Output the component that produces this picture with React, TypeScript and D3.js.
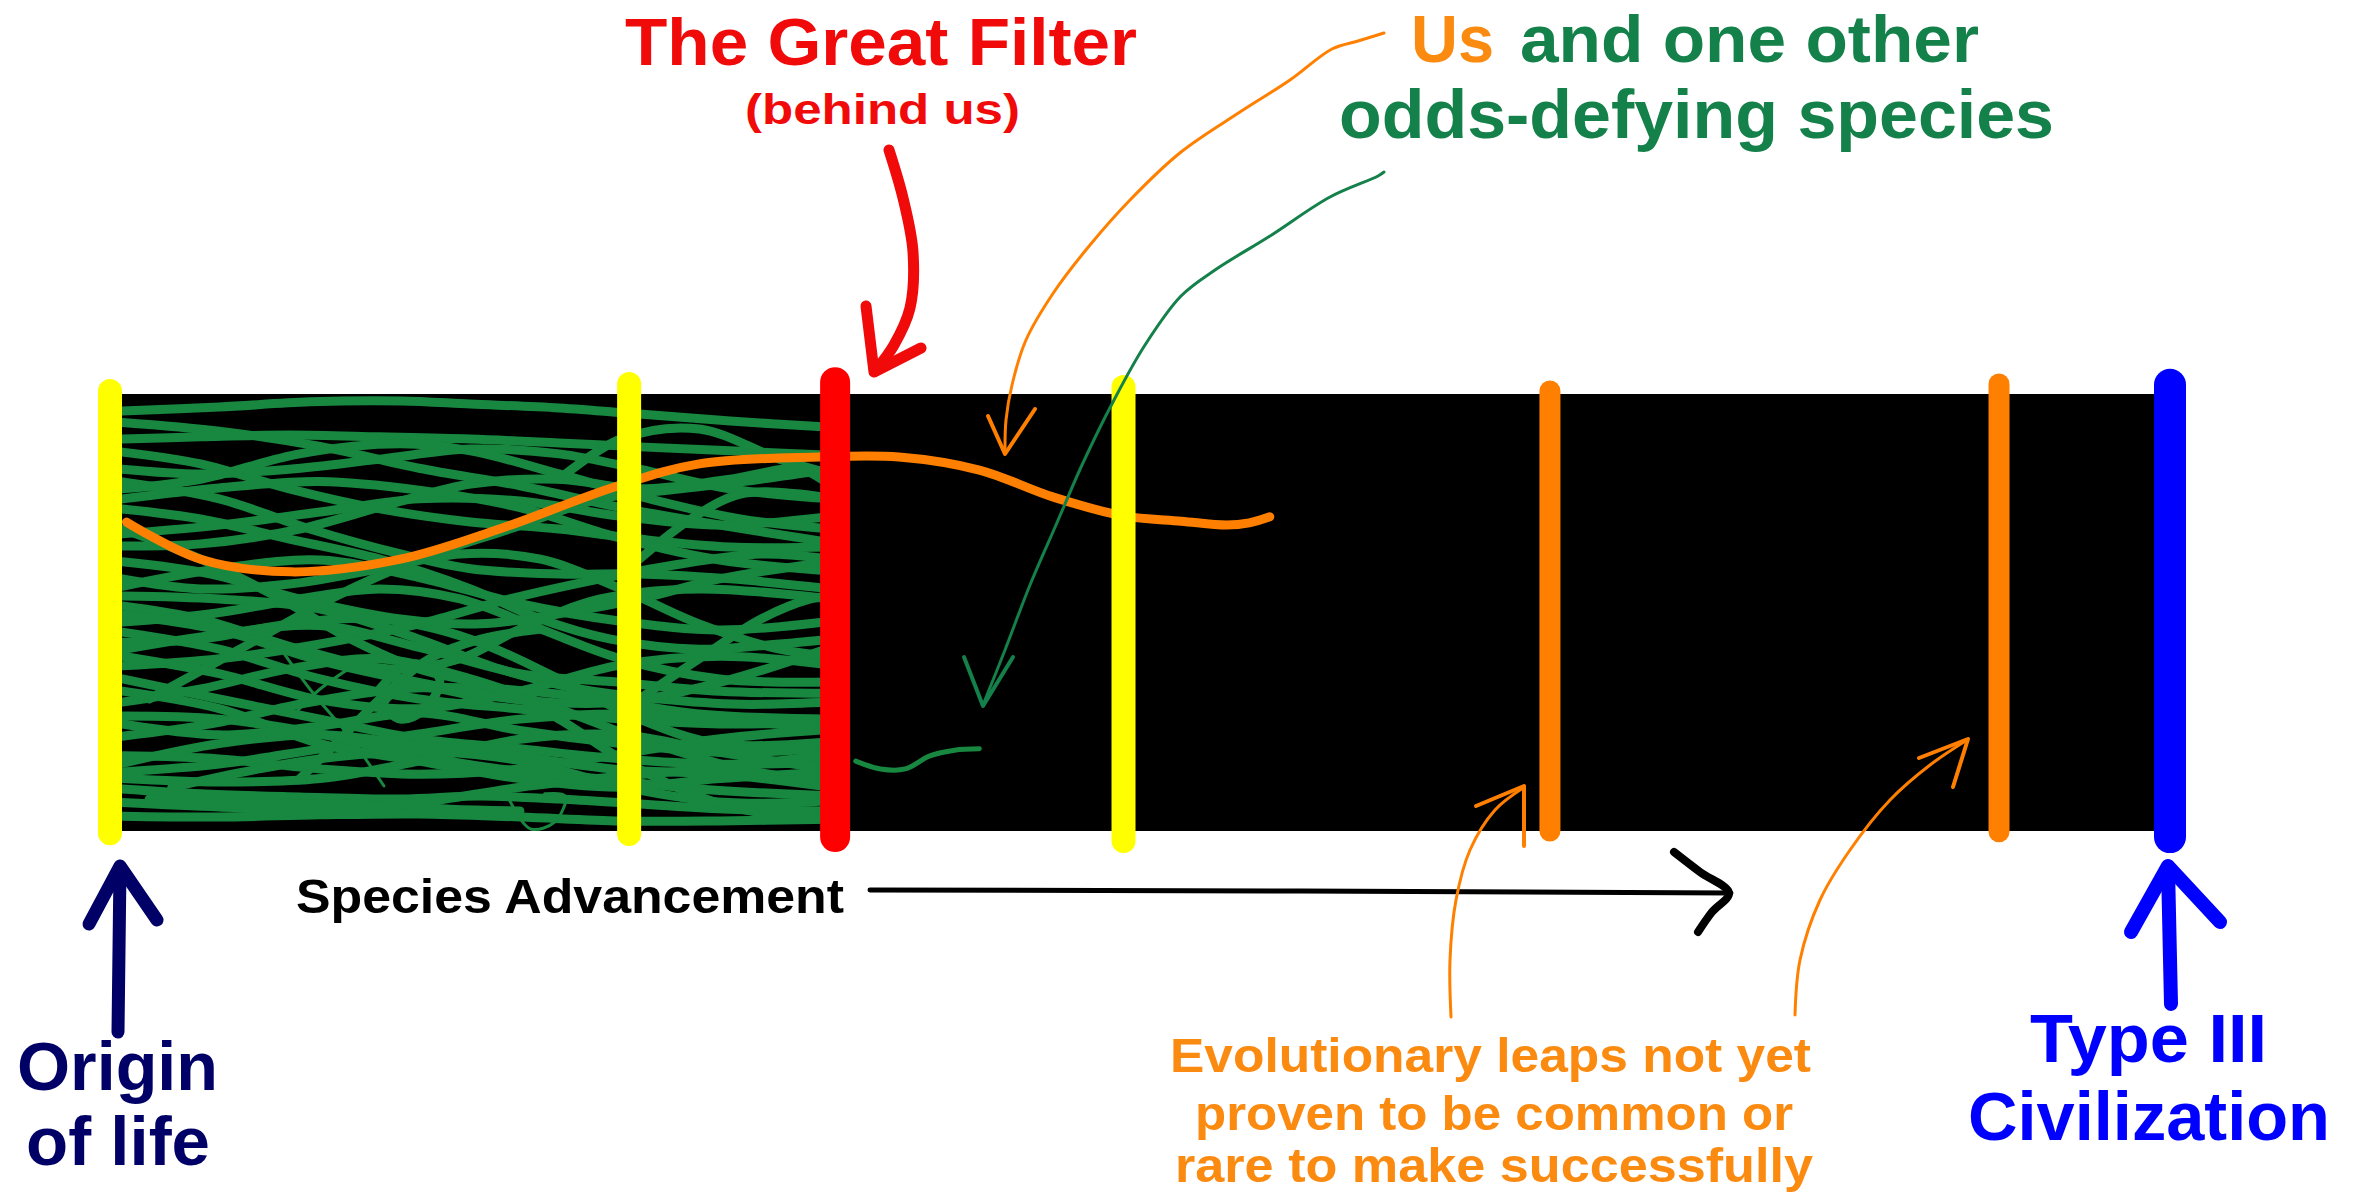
import React from 'react';
import * as d3 from 'd3';

// ---- Data (advancement axis: 0 = origin of life, 100 = Type III civilization;
// ---- vertical axis: 0..100 across the band of species) ----

const stageNames = ['Origin of life', 'Early leap', 'The Great Filter', 'Later leap', 'Unproven leap 1', 'Unproven leap 2', 'Type III Civilization'];
const stagePositions = [0, 25.2, 35.2, 49.2, 69.9, 91.7, 100];
const stageKinds = ['yellow', 'yellow', 'red', 'yellow', 'orange', 'orange', 'blue'];
const stageTop = [-0.7, -2.3, -2.7, -1.6, -0.7, -2.3, -2.1];
const stageBottom = [100.5, 100.7, 101.4, 102.3, 100.0, 100.2, 101.4];

// Lineages of species that died out at the filters (hand traced)
const lineages: [number, number][][] = [
  [[0.6, 3.9], [5.3, 3.0], [9.7, 1.8], [14.1, 1.6], [17.5, 2.3], [21.8, 3.2], [25.7, 4.6], [30.1, 6.2], [35, 7.6]],
  [[0.6, 10.3], [4.4, 9.8], [8.7, 9.4], [13.1, 9.8], [17.5, 10.3], [21.8, 11.2], [25.7, 12.1], [30.1, 13.0], [35, 14.0]],
  [[0.6, 13.3], [4.4, 16.0], [8.7, 21.7], [13.1, 26.3], [17.5, 29.3], [21.8, 30.9], [25.7, 33.2], [30.1, 35.0], [35, 35.0]],
  [[0.6, 17.2], [4.4, 18.3], [8.7, 17.2], [13.1, 14.9], [17.5, 12.6], [21.8, 13.7], [25.7, 17.2], [30.1, 21.7], [35, 24.0]],
  [[0.6, 20.1], [5.3, 24.0], [9.7, 30.9], [14.1, 36.6], [17.5, 40.0], [21.8, 41.2], [25.7, 41.2], [30.1, 42.3], [35, 44.6]],
  [[0.6, 21.7], [4.4, 19.5], [9.2, 13.7], [14.1, 11.4], [17.5, 13.0], [21.8, 18.3], [26.2, 24.0], [30.6, 28.6], [35, 30.9]],
  [[0.6, 26.3], [4.4, 28.6], [8.7, 33.2], [13.1, 37.8], [17.5, 44.6], [20.9, 51.5], [24.3, 56.1], [28.6, 58.4], [32.5, 57.2], [35, 56.1]],
  [[0.6, 34.8], [4.4, 34.3], [9.2, 30.9], [13.6, 25.2], [17.5, 20.6], [21.8, 19.5], [25.7, 21.7], [30.1, 19.5], [33.5, 17.2], [35, 21.1]],
  [[0.6, 38.4], [4.9, 41.2], [9.2, 46.9], [14.1, 51.5], [18.0, 52.6], [21.8, 50.3], [25.7, 46.9], [29.6, 42.3], [35, 38.4]],
  [[0.6, 42.3], [4.4, 44.6], [8.7, 43.5], [13.1, 40.0], [17.0, 36.6], [20.9, 37.8], [24.8, 44.6], [28.6, 52.6], [32.5, 58.4], [35, 60.0]],
  [[0.6, 46.2], [5.3, 46.9], [10.2, 49.2], [15.0, 56.1], [18.9, 62.9], [22.8, 67.5], [26.7, 69.8], [30.6, 71.0], [35, 70.5]],
  [[0.6, 48.5], [4.4, 51.5], [9.2, 58.4], [13.6, 62.9], [17.0, 60.6], [19.9, 53.8], [23.8, 46.9], [28.6, 44.6], [35, 46.9]],
  [[0.6, 52.2], [4.9, 50.3], [9.2, 46.9], [13.1, 44.6], [17.0, 46.9], [20.9, 53.8], [24.8, 60.6], [29.6, 65.2], [35, 65.9]],
  [[0.6, 54.5], [5.3, 58.4], [10.2, 65.2], [15.0, 69.8], [19.9, 72.1], [24.8, 74.4], [29.6, 75.5], [35, 75.1]],
  [[0.6, 56.8], [4.4, 56.1], [8.7, 52.6], [13.1, 51.5], [17.5, 56.1], [21.8, 65.2], [25.7, 74.4], [29.6, 80.1], [35, 79.6]],
  [[0.6, 62.2], [5.3, 60.6], [10.2, 57.2], [15.0, 52.6], [19.4, 46.9], [23.8, 42.3], [27.7, 38.9], [31.6, 36.6], [35, 37.8]],
  [[0.6, 65.2], [5.3, 69.8], [10.2, 74.4], [15.0, 78.9], [19.9, 81.2], [24.8, 83.5], [29.6, 84.7], [35, 84.2]],
  [[0.6, 70.5], [4.4, 67.5], [8.7, 62.9], [13.1, 60.6], [17.5, 65.2], [21.8, 72.1], [25.7, 78.9], [30.6, 85.8], [35, 88.8]],
  [[0.6, 73.7], [5.3, 74.4], [10.2, 77.8], [14.6, 82.4], [18.9, 85.8], [23.8, 88.1], [28.6, 90.4], [35, 92.0]],
  [[0.6, 78.3], [4.9, 75.5], [9.2, 71.0], [14.1, 67.5], [18.9, 67.5], [23.8, 69.8], [28.6, 73.2], [35, 74.4]],
  [[0.6, 82.8], [5.3, 83.5], [10.2, 85.8], [15.0, 87.0], [19.9, 85.8], [24.8, 82.4], [29.6, 78.9], [35, 76.7]],
  [[0.6, 86.5], [5.3, 84.7], [10.2, 81.2], [15.0, 77.8], [19.9, 74.4], [24.8, 73.2], [29.6, 74.4], [35, 76.7]],
  [[0.6, 90.4], [4.4, 91.5], [9.2, 92.2], [14.1, 92.7], [18.0, 92.0], [21.8, 92.7], [25.7, 93.8], [30.1, 95.0], [35, 95.4]],
  [[1.9, 92.7], [6.8, 93.8], [11.7, 93.8], [16.5, 95.0], [19.9, 95.4]],
  [[0.6, 96.6], [5.3, 96.8], [10.2, 96.3], [15.0, 96.1], [19.9, 96.8], [24.8, 97.7], [29.6, 97.7], [35, 97.3]],
  [[1.9, 69.8], [6.3, 58.4], [10.7, 46.9], [15.0, 37.8], [19.4, 30.9], [23.8, 24.0], [27.7, 21.7], [31.6, 19.5], [35, 17.2]],
  [[9.2, 88.1], [11.2, 78.9], [13.1, 69.8], [15.5, 60.6], [18.0, 56.1], [20.9, 53.8]],
  [[0.6, 30.9], [4.4, 37.8], [8.3, 46.9], [11.7, 56.1], [15.0, 62.9], [18.9, 67.5], [21.8, 74.4], [24.8, 83.5], [27.7, 90.4], [30.6, 95.0], [35, 97.3]],
  [[13.1, 67.5], [14.1, 62.9], [15.0, 61.8], [16.0, 65.2], [15.3, 72.1], [14.1, 74.4], [13.3, 70.9], [14.1, 67.5], [16.0, 67.5], [18.0, 69.8]],
  [[21.8, 19.5], [24.8, 10.3], [28.6, 8.0], [32.5, 14.9], [35, 18.3]],
  [[25.7, 37.8], [28.2, 28.6], [30.6, 22.9], [33.5, 22.9], [35, 24.0]],
  [[25.7, 69.8], [28.6, 60.6], [31.6, 51.5], [34.0, 46.9], [35, 46.2]],
  [[0.6, 60.0], [5.3, 64.0], [10.2, 70.0], [15.0, 72.0], [19.9, 68.0], [24.8, 62.0], [29.6, 60.0], [35, 62.0]],
  [[0.6, 88.0], [5.3, 88.8], [10.2, 88.0], [15.0, 84.0], [19.9, 79.0], [24.8, 78.0], [29.6, 82.0], [35, 86.0]],
  [[0.6, 44.0], [5.3, 40.0], [10.2, 38.0], [15.0, 42.0], [19.9, 48.0], [24.8, 52.0], [29.6, 54.0], [35, 52.0]],
  [[0.6, 32.0], [5.3, 30.0], [10.2, 27.0], [15.0, 24.0], [19.9, 24.5], [24.8, 28.0], [29.6, 30.0], [35, 28.0]],
  [[0.6, 6.5], [5.3, 8.5], [10.2, 12.0], [15.0, 17.0], [19.9, 21.0], [24.8, 26.0], [29.6, 30.0], [35, 34.0]],
  [[0.6, 58.5], [5.3, 55.0], [10.2, 53.0], [15.0, 58.0], [19.9, 64.0], [24.8, 66.0], [29.6, 68.0], [35, 68.5]],
  [[0.6, 68.0], [5.3, 72.0], [10.2, 80.0], [15.0, 84.0], [19.9, 88.0], [24.8, 90.0], [29.6, 88.0], [35, 86.5]],
  [[0.6, 75.5], [5.3, 78.0], [10.2, 76.0], [15.0, 73.0], [19.9, 77.0], [24.8, 80.0], [29.6, 82.0], [35, 81.0]],
  [[0.6, 84.5], [5.3, 80.0], [10.2, 78.0], [15.0, 80.5], [19.9, 83.0], [24.8, 86.0], [29.6, 87.0], [35, 90.0]],
  [[0.6, 50.5], [5.3, 54.0], [10.2, 61.0], [15.0, 66.0], [19.9, 70.0], [24.8, 70.5], [29.6, 66.0], [35, 58.0]],
  [[3.0, 90.0], [7.0, 86.0], [11.0, 83.0], [16.0, 82.0], [20.0, 84.0], [25.0, 90.0], [30.0, 93.5], [35, 93.0]],
  [[0.6, 93.5], [5.3, 94.5], [10.2, 95.0], [15.0, 93.5], [19.9, 90.0], [24.8, 87.5], [29.6, 85.5], [35, 82.5]],
  [[0.6, 24.0], [5.3, 21.5], [10.2, 20.0], [15.0, 22.0], [19.9, 26.0], [24.8, 33.0], [29.6, 38.0], [35, 40.5]],
];

const thinLineages: [number, number][][] = [
  [[9.1, 72.5], [10.2, 67.5], [12.1, 61.3]],
  [[8.1, 57.0], [9.7, 67.5], [11.7, 78.9], [13.3, 89.7]],
  [[19.4, 93.0], [20.4, 99.5], [21.6, 97.9], [22.1, 92.0], [21.1, 91.5]],
];

// Our own lineage (orange) and the other odds-defying species (green)
const usPath: [number, number][] = [
  [0.8, 29.3], [4.4, 37.8], [8.8, 40.7], [14.1, 37.8], [18.9, 30.9], [24.6, 21.1], [28.6, 16.0],
  [34.4, 14.4], [38.3, 14.4], [42.2, 17.4], [45.8, 23.6], [49.2, 27.9], [52.0, 29.1], [54.2, 30.0], [55.3, 29.5], [56.3, 28.1],
];
const otherSurvivor: [number, number][] = [
  [36.2, 84.0], [37.4, 85.8], [38.6, 85.8], [39.8, 82.8], [41.0, 81.5], [42.2, 81.2],
];

const kindColors = ['#ffff00', '#ff0000', '#ff8000', '#0000ff'];
const kindNames = ['yellow', 'red', 'orange', 'blue'];

const FONT = '"Liberation Sans", Arial, Helvetica, sans-serif';

export default function App() {
  const x = d3.scaleLinear().domain([0, 100]).range([110, 2170]);
  const y = d3.scaleLinear().domain([0, 100]).range([394, 831]);
  const color = d3.scaleOrdinal<string, string>().domain(kindNames).range(kindColors);
  const barWidth: Record<string, number> = { yellow: 24, red: 30, orange: 21, blue: 32 };

  const bandLine = d3.line<[number, number]>().x(d => x(d[0])).y(d => y(d[1])).curve(d3.curveCatmullRom.alpha(0.5));
  const pageLine = d3.line<[number, number]>().curve(d3.curveCatmullRom.alpha(0.5));
  const straight = d3.line<[number, number]>();

  const green = '#18873f';
  const greenText = '#14804a';
  const orange = '#ff8000';
  const orangeText = '#fb8a10';
  const red = '#f00a0a';
  const navy = '#000066';
  const blue = '#0000ff';

  const T = (props: any) => (
    <text fontFamily={FONT} fontWeight="bold" lengthAdjust="spacingAndGlyphs" {...props} />
  );

  return (
    <svg width={2362} height={1197} style={{ position: 'absolute', left: 0, top: 0, background: '#fff' }}>
      <rect x={0} y={0} width={2362} height={1197} fill="#fff" />

      {/* black band */}
      <rect x={x(0)} y={y(0)} width={x(100) - x(0)} height={y(100) - y(0)} fill="#000" />

      {/* extinct lineages */}
      <g fill="none" stroke={green} strokeWidth={9} strokeLinecap="round" strokeLinejoin="round">
        {lineages.map((l, i) => <path key={i} d={bandLine(l) || ''} />)}
      </g>
      <g fill="none" stroke={green} strokeWidth={3} strokeLinecap="round" strokeLinejoin="round">
        {thinLineages.map((l, i) => <path key={i} d={bandLine(l) || ''} />)}
      </g>
      <path d={bandLine(otherSurvivor) || ''} fill="none" stroke={green} strokeWidth={5} strokeLinecap="round" />
      <path d={bandLine(usPath) || ''} fill="none" stroke={orange} strokeWidth={9} strokeLinecap="round" />

      {/* stage markers */}
      {stagePositions.map((p, i) => (
        <line key={stageNames[i]} x1={x(p)} x2={x(p)} y1={y(stageTop[i])} y2={y(stageBottom[i])}
          stroke={color(stageKinds[i])} strokeWidth={barWidth[stageKinds[i]]} strokeLinecap="round" />
      ))}

      {/* Great Filter label and arrow */}
      <T x={625} y={65} fontSize={67} fill={red} textLength={512}>The Great Filter</T>
      <T x={745} y={124} fontSize={43} fill={red} textLength={275}>(behind us)</T>
      <g fill="none" stroke={red} strokeWidth={11} strokeLinecap="round" strokeLinejoin="round">
        <path d={pageLine([[889, 150], [903, 198], [913, 252], [910, 308], [894, 345], [876, 370]]) || ''} />
        <path d={straight([[866, 306], [874, 372], [921, 348]]) || ''} />
      </g>

      {/* Us and one other */}
      <T x={1411} y={62} fontSize={66} fill={orangeText} textLength={83}>Us</T>
      <T x={1520} y={62} fontSize={66} fill={greenText} textLength={459}>and one other</T>
      <T x={1339} y={138} fontSize={68} fill={greenText} textLength={715}>odds-defying species</T>
      <g fill="none" stroke={orange} strokeWidth={3} strokeLinecap="round" strokeLinejoin="round">
        <path d={pageLine([[1384, 33], [1358, 41], [1332, 49], [1290, 80], [1240, 112], [1181, 152], [1130, 200], [1090, 245], [1054, 292], [1026, 340], [1012, 385], [1006, 420], [1005, 452]]) || ''} />
        <path d={straight([[988, 416], [1005, 454], [1035, 409]]) || ''} strokeWidth={4} />
      </g>
      <g fill="none" stroke={greenText} strokeWidth={3} strokeLinecap="round" strokeLinejoin="round">
        <path d={pageLine([[1384, 172], [1378, 176], [1330, 197], [1270, 236], [1215, 270], [1181, 296], [1145, 345], [1114, 400], [1082, 465], [1056, 525], [1030, 585], [1005, 650], [983, 705]]) || ''} />
        <path d={straight([[964, 657], [983, 706], [1013, 657]]) || ''} strokeWidth={4} />
      </g>

      {/* Species Advancement axis arrow */}
      <T x={296} y={913} fontSize={49} fill="#000" textLength={548}>Species Advancement</T>
      <g fill="none" stroke="#000" strokeLinecap="round" strokeLinejoin="round">
        <path d={straight([[870, 890], [1300, 891], [1731, 893]]) || ''} strokeWidth={5} />
        <path d={pageLine([[1674, 852], [1700, 872], [1729, 893], [1712, 912], [1698, 932]]) || ''} strokeWidth={8} />
      </g>

      {/* Origin of life */}
      <g fill="none" stroke={navy} strokeWidth={13} strokeLinecap="round" strokeLinejoin="round">
        <path d={straight([[118, 1032], [120, 868]]) || ''} />
        <path d={straight([[89, 924], [120, 866], [157, 920]]) || ''} />
      </g>
      <T x={17} y={1090} fontSize={68} fill={navy} textLength={201}>Origin</T>
      <T x={26} y={1165} fontSize={68} fill={navy} textLength={184}>of life</T>

      {/* Type III Civilization */}
      <g fill="none" stroke={blue} strokeWidth={14} strokeLinecap="round" strokeLinejoin="round">
        <path d={straight([[2171, 1004], [2168, 868]]) || ''} />
        <path d={straight([[2131, 932], [2168, 866], [2220, 922]]) || ''} />
      </g>
      <T x={2030} y={1062} fontSize={68} fill={blue} textLength={237}>Type III</T>
      <T x={1968} y={1140} fontSize={68} fill={blue} textLength={362}>Civilization</T>

      {/* Evolutionary leaps annotation */}
      <g fill="none" stroke={orange} strokeWidth={3} strokeLinecap="round" strokeLinejoin="round">
        <path d={pageLine([[1451, 1017], [1450, 960], [1456, 900], [1470, 850], [1495, 810], [1523, 788]]) || ''} />
        <path d={straight([[1476, 806], [1524, 786], [1524, 846]]) || ''} strokeWidth={4} />
        <path d={pageLine([[1795, 1015], [1800, 960], [1820, 900], [1850, 850], [1890, 800], [1930, 765], [1967, 740]]) || ''} />
        <path d={straight([[1919, 758], [1968, 739], [1953, 787]]) || ''} strokeWidth={4} />
      </g>
      <T x={1170} y={1072} fontSize={49} fill={orangeText} textLength={641}>Evolutionary leaps not yet</T>
      <T x={1195} y={1130} fontSize={49} fill={orangeText} textLength={598}>proven to be common or</T>
      <T x={1175} y={1182} fontSize={49} fill={orangeText} textLength={638}>rare to make successfully</T>
    </svg>
  );
}
